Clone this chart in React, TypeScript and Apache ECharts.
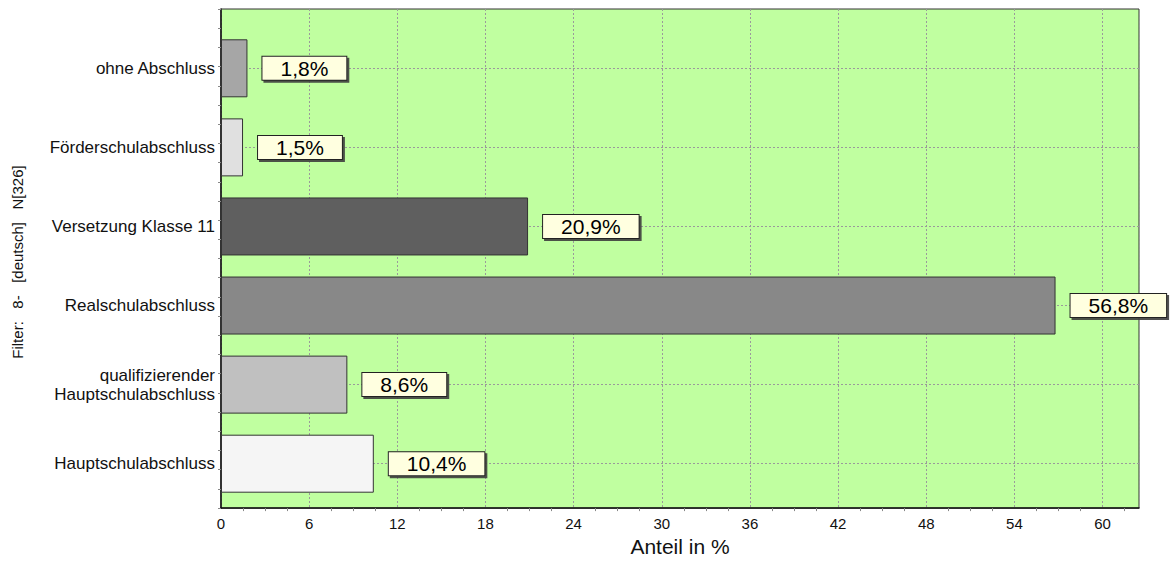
import React, { useEffect, useRef } from "react";
import * as echarts from "echarts";

const categories = [
  "ohne Abschluss",
  "Förderschulabschluss",
  "Versetzung Klasse 11",
  "Realschulabschluss",
  "qualifizierender\nHauptschulabschluss",
  "Hauptschulabschluss",
];
const values = [1.8, 1.5, 20.9, 56.8, 8.6, 10.4];
const barColors = ["#a6a6a6", "#e0e0e0", "#5f5f5f", "#888888", "#c0c0c0", "#f5f5f5"];
const xMin = 0;
const xMax = 62.48;
const xInterval = 6;
const axisTitle = "Anteil in %";
const filterText = "Filter:   8-   [deutsch]   N[326]";

const FONT = "'Liberation Sans', Arial, sans-serif";

export default function App() {
  const ref = useRef<HTMLDivElement>(null);
  useEffect(() => {
    if (!ref.current) return;
    const chart = echarts.init(ref.current, undefined, { renderer: "svg" });
    const gridCommon = { left: 221, right: 32 };
    chart.setOption({
      animation: false,
      backgroundColor: "#ffffff",
      textStyle: { fontFamily: FONT },
      grid: [
        {
          ...gridCommon,
          top: 9,
          bottom: 39,
          show: true,
          backgroundColor: "#c0ffa0",
          borderColor: "#333333",
          borderWidth: 1,
        },
        { ...gridCommon, top: 68.3, bottom: 98.3 },
      ],
      xAxis: [
        {
          gridIndex: 0,
          type: "value",
          min: xMin,
          max: xMax,
          interval: xInterval,
          axisLine: { show: true, onZero: false, lineStyle: { color: "#111", width: 1.5 } },
          axisTick: { show: false },
          minorTick: { show: true, splitNumber: 4, length: 3, lineStyle: { color: "#888" } },
          axisLabel: {
            fontSize: 15,
            color: "#111",
            margin: 8,
            fontFamily: FONT,
            showMaxLabel: false,
          },
          splitLine: { show: true, lineStyle: { color: "#9a9a9a", type: [2, 2], width: 1 } },
          name: axisTitle,
          nameLocation: "middle",
          nameGap: 27,
          nameTextStyle: { fontSize: 21, color: "#111", fontFamily: FONT },
        },
        {
          gridIndex: 1,
          type: "value",
          min: xMin,
          max: xMax,
          show: false,
          axisLine: { show: false, onZero: false },
          splitLine: { show: false },
        },
      ],
      yAxis: [
        {
          gridIndex: 0,
          type: "value",
          min: -0.75,
          max: 5.75,
          interval: 0.25,
          inverse: true,
          axisLine: { show: true, onZero: false, lineStyle: { color: "#111", width: 1.5 } },
          axisTick: { show: true, length: 3, lineStyle: { color: "#888" } },
          axisLabel: { show: false },
          splitLine: { show: false },
        },
        {
          gridIndex: 1,
          type: "category",
          data: categories,
          inverse: true,
          boundaryGap: false,
          axisLine: { show: false, onZero: false },
          axisTick: { show: false },
          axisLabel: {
            fontSize: 17,
            color: "#111",
            margin: 6,
            lineHeight: 19,
            align: "right",
            fontFamily: FONT,
          },
          splitLine: { show: true, lineStyle: { color: "#9a9a9a", type: [2, 2], width: 1 } },
        },
      ],
      graphic: [
        {
          type: "text",
          x: 17,
          y: 262,
          rotation: Math.PI / 2,
          style: {
            text: filterText,
            fontSize: 15,
            fontFamily: FONT,
            fill: "#111",
            align: "center",
            verticalAlign: "middle",
          },
        },
      ],
      series: [
        {
          type: "bar",
          xAxisIndex: 1,
          yAxisIndex: 1,
          barWidth: 58,
          silent: true,
          emphasis: { disabled: true },
          data: values.map((v, i) => ({ value: v, itemStyle: { color: barColors[i] } })),
          itemStyle: { borderColor: "#333333", borderWidth: 1 },
          label: {
            show: true,
            position: "right",
            distance: 15,
            formatter: (p: any) => String(p.value).replace(".", ",") + "%",
            fontSize: 21,
            lineHeight: 20,
            color: "#000",
            fontFamily: FONT,
            backgroundColor: "#ffffe0",
            borderColor: "#222",
            borderWidth: 1,
            padding: [2, 18, 1, 18],
            shadowColor: "rgba(60,60,60,0.9)",
            shadowBlur: 0,
            shadowOffsetX: 2,
            shadowOffsetY: 2,
          },
        },
      ],
    });
    return () => chart.dispose();
  }, []);
  return (
    <div
      ref={ref}
      style={{ position: "fixed", left: 0, top: 0, width: 1171, height: 562 }}
    />
  );
}
